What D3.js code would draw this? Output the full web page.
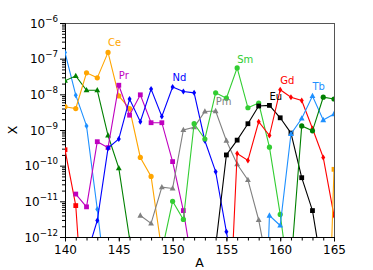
<!DOCTYPE html>
<html>
<head>
<meta charset="utf-8">
<script src="https://cdn.jsdelivr.net/npm/d3@7"></script>
<style>
  html, body { margin: 0; padding: 0; background: #fff; }
  svg { display: block; font-family: "DejaVu Sans", sans-serif; }
</style>
</head>
<body>
<svg id="chart" width="373" height="270"></svg>
<script>
// ---------------- data ----------------
const xTicks = [140, 145, 150, 155, 160, 165];
const yTickExponents = [-6, -7, -8, -9, -10, -11, -12];

const A_Cs = [140, 141, 142];
const X_Cs = [2.8e-10, 7.6e-12, 3e-16];
const A_Ba = [140, 141, 142, 143, 144];
const X_Ba = [1.5e-7, 9.5e-9, 1.3e-9, 6e-12, 1.6e-14];
const A_La = [140, 141, 142, 143, 144, 145, 146];
const X_La = [2.4e-8, 3.3e-8, 1.3e-8, 1.3e-8, 7e-10, 8.5e-11, 9e-13];
const A_Ce = [140, 141, 142, 143, 144, 145, 146, 147, 148, 149];
const X_Ce = [4.5e-9, 4e-9, 4e-8, 2.9e-8, 1.5e-7, 9e-9, 4e-9, 1.7e-10, 5e-11, 4e-13];
const A_Pr = [141, 142, 143, 144, 145, 146, 147, 148, 149, 150, 151, 152];
const X_Pr = [1.6e-11, 7e-12, 4.7e-10, 3.2e-10, 1.8e-8, 2.6e-9, 9.7e-9, 1.6e-9, 1.6e-9, 1.3e-10, 5.5e-12, 8e-14];
const A_Nd = [142, 143, 144, 145, 146, 147, 148, 149, 150, 151, 152, 153, 154, 155, 156];
const X_Nd = [3e-13, 2.9e-12, 3.1e-10, 5.6e-10, 7.4e-9, 1.7e-9, 1.4e-8, 2.4e-9, 1.6e-8, 1.2e-8, 1.1e-8, 5e-10, 6.8e-11, 1.4e-12, 3e-14];
const A_Pm = [147, 148, 149, 150, 151, 152, 153, 154, 155, 156, 157, 158, 159];
const X_Pm = [4e-12, 2.4e-12, 2.5e-11, 2.3e-11, 1e-9, 1.2e-9, 3.3e-9, 3.4e-9, 5e-10, 1.1e-10, 4e-11, 3e-12, 8e-14];
const A_Sm = [149, 150, 151, 152, 153, 154, 155, 156, 157, 158, 159, 160, 161];
const X_Sm = [4e-13, 1e-11, 3.1e-12, 1.5e-9, 5.6e-10, 1.1e-8, 7.8e-9, 5.5e-8, 4.2e-9, 5.7e-9, 3.3e-10, 4.3e-12, 2.5e-14];
const A_Eu = [154, 155, 156, 157, 158, 159, 160, 161, 162, 163, 164];
const X_Eu = [5.5e-13, 2e-10, 5.2e-10, 1.5e-9, 4.7e-9, 4.9e-9, 2.2e-9, 8.2e-10, 4.6e-11, 5.5e-12, 8e-14];
const A_Gd = [155, 156, 157, 158, 159, 160, 161, 162, 163, 164, 165];
const X_Gd = [6e-17, 2.2e-10, 1.4e-10, 1.7e-9, 7e-10, 1.35e-8, 8.3e-9, 6.7e-9, 1.1e-9, 1.7e-10, 4e-12];
const A_Tb = [158, 159, 160, 161, 162, 163, 164, 165];
const X_Tb = [1e-20, 4e-12, 2.1e-12, 7.8e-10, 2.1e-9, 9e-9, 1.9e-9, 2.8e-9];
const A_Dy = [161, 162, 163, 164, 165];
const X_Dy = [1.6e-13, 1.3e-9, 9.5e-10, 8.3e-9, 7.4e-9];
const A_Ho = [164, 165];
const X_Ho = [3e-20, 7.9e-11];

const labelNames = ["Ce", "Pr", "Nd", "Pm", "Sm", "Eu", "Gd", "Tb"];
const labelA = [144, 145, 150, 154, 156, 159, 160, 163];
const labelX = [2.2e-7, 2.7e-8, 2.3e-8, 5.1e-9, 7.8e-8, 7.1e-9, 2.0e-8, 1.3e-8];

// ---------------- styles ----------------
const series = [
  { A: A_Cs, X: X_Cs, color: "#ff0000", marker: "square" },
  { A: A_Ba, X: X_Ba, color: "#1e90ff", marker: "thin_diamond" },
  { A: A_La, X: X_La, color: "#008000", marker: "triangle" },
  { A: A_Ce, X: X_Ce, color: "#ffa500", marker: "circle" },
  { A: A_Pr, X: X_Pr, color: "#bf00bf", marker: "square" },
  { A: A_Nd, X: X_Nd, color: "#0000ff", marker: "thin_diamond" },
  { A: A_Pm, X: X_Pm, color: "#808080", marker: "triangle" },
  { A: A_Sm, X: X_Sm, color: "#32cd32", marker: "circle" },
  { A: A_Eu, X: X_Eu, color: "#000000", marker: "square" },
  { A: A_Gd, X: X_Gd, color: "#ff0000", marker: "thin_diamond" },
  { A: A_Tb, X: X_Tb, color: "#1e90ff", marker: "triangle" },
  { A: A_Dy, X: X_Dy, color: "#008000", marker: "circle" },
  { A: A_Ho, X: X_Ho, color: "#ffa500", marker: "square" }
];
const labelColors = ["#ffa500", "#bf00bf", "#0000ff", "#808080", "#32cd32", "#000000", "#ff0000", "#1e90ff"];

// ---------------- layout ----------------
const W = 373, H = 270;
const m = { left: 65, right: 39, top: 23, bottom: 33 };
const svg = d3.select("#chart");

const x = d3.scaleLinear().domain([140, 165]).range([m.left, W - m.right]);
const y = d3.scaleLog().domain([1e-12, 1e-6]).range([H - m.bottom, m.top]);

svg.append("defs").append("clipPath").attr("id", "clip")
  .append("rect").attr("x", m.left).attr("y", m.top)
  .attr("width", W - m.left - m.right).attr("height", H - m.top - m.bottom);

// frame (top/right)
svg.append("line").attr("x1", m.left).attr("x2", W - m.right).attr("y1", m.top + 0.5).attr("y2", m.top + 0.5)
  .attr("stroke", "#555").attr("stroke-width", 1);
svg.append("line").attr("x1", W - m.right + 0.5).attr("x2", W - m.right + 0.5).attr("y1", m.top).attr("y2", H - m.bottom)
  .attr("stroke", "#555").attr("stroke-width", 1);

// x axis
const xAxis = svg.append("g").attr("transform", `translate(0,${H - m.bottom})`);
xAxis.call(d3.axisBottom(x).tickValues(d3.range(140, 166)).tickSize(3.5).tickFormat(""));
xAxis.call(g => g.selectAll(".tick line").attr("stroke", "#000"));
xAxis.select(".domain").attr("stroke", "#000");
const xAxisMajor = svg.append("g").attr("transform", `translate(0,${H - m.bottom})`);
xAxisMajor.call(d3.axisBottom(x).tickValues(xTicks).tickSize(4.5).tickPadding(4).tickFormat(d3.format("d")));
xAxisMajor.select(".domain").remove();
xAxisMajor.selectAll("text").attr("font-size", 12).attr("fill", "#000").attr("font-family", "DejaVu Sans");

// y axis
const minorVals = [];
for (let e = -12; e < -6; e++) for (let k = 2; k <= 9; k++) minorVals.push(k * Math.pow(10, e));
const yAxis = svg.append("g").attr("transform", `translate(${m.left},0)`);
yAxis.call(d3.axisLeft(y).tickValues(minorVals).tickSize(3).tickFormat(""));
yAxis.select(".domain").attr("stroke", "#000");
const yAxisMajor = svg.append("g").attr("transform", `translate(${m.left},0)`);
yAxisMajor.call(d3.axisLeft(y).tickValues(yTickExponents.map(e => Math.pow(10, e))).tickSize(5).tickFormat(""));
yAxisMajor.select(".domain").remove();

const yLab = svg.append("g");
yTickExponents.forEach(e => {
  const t = yLab.append("text")
    .attr("x", m.left - 7).attr("y", y(Math.pow(10, e)) + 4.5)
    .attr("text-anchor", "end").attr("font-size", 12).attr("fill", "#000");
  t.append("tspan").text("10");
  t.append("tspan").attr("dy", -6).attr("font-size", 8.7).text("\u2212" + Math.abs(e));
});

// axis titles
svg.append("text").attr("x", (m.left + W - m.right) / 2).attr("y", 267)
  .attr("text-anchor", "middle").attr("font-size", 12.5).text("A");
svg.append("text").attr("transform", `translate(17,${(m.top + H - m.bottom) / 2}) rotate(-90)`)
  .attr("text-anchor", "middle").attr("font-size", 12.5).text("X");

// series
const plot = svg.append("g").attr("clip-path", "url(#clip)");
const line = d3.line().x(d => x(d[0])).y(d => y(d[1]));

function markerPath(type) {
  if (type === "square") return "M-2.4,-2.4H2.4V2.4H-2.4Z";
  if (type === "triangle") return "M0,-3.2L2.9,2.1H-2.9Z";
  if (type === "thin_diamond") return "M0,-3L2,0L0,3L-2,0Z";
  return null;
}

series.forEach(s => {
  const pts = s.A.map((a, i) => [a, s.X[i]]);
  plot.append("path").datum(pts).attr("d", line)
    .attr("fill", "none").attr("stroke", s.color).attr("stroke-width", 1.1);
  const vis = pts.filter(p => p[1] >= 1e-12 * 0.9);
  const g = plot.append("g");
  vis.forEach(p => {
    if (s.marker === "circle") {
      g.append("circle").attr("cx", x(p[0])).attr("cy", y(p[1])).attr("r", 2.6).attr("fill", s.color);
    } else {
      g.append("path").attr("d", markerPath(s.marker))
        .attr("transform", `translate(${x(p[0])},${y(p[1])})`).attr("fill", s.color);
    }
  });
});

// labels
labelNames.forEach((n, i) => {
  svg.append("text").attr("x", x(labelA[i])).attr("y", y(labelX[i]))
    .attr("font-size", 10).attr("fill", labelColors[i]).text(n);
});
</script>
</body>
</html>
